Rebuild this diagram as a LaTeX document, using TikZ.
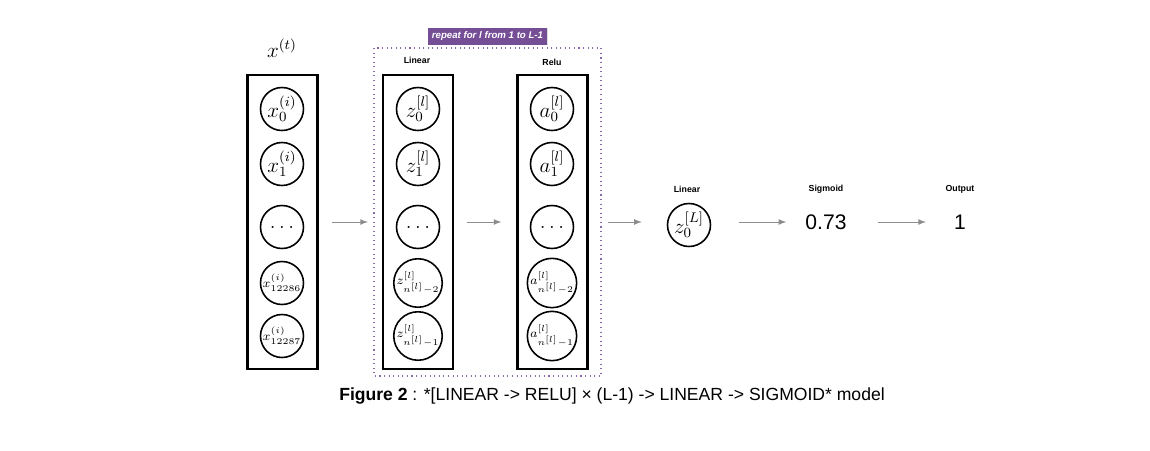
\documentclass[tikz,border=0pt]{standalone}
\usepackage{fontspec}
\setsansfont{Liberation Sans}
\usetikzlibrary{positioning,shadows}

\definecolor{repeatpurple}{RGB}{118,78,150}
\definecolor{flowgray}{RGB}{140,140,140}

\tikzset{
    layerbox/.style={draw, line width=1.3pt, minimum width=1.4cm, minimum height=5.88cm},
    unit/.style={draw, circle, line width=0.9pt, minimum size=0.86cm, inner sep=0pt, font=\large},
    smallunit/.style={unit, font=\fontsize{7.2}{8}\selectfont},
    head/.style={font=\sffamily\bfseries\fontsize{5}{6}\selectfont},
    flow/.style={flowgray, line width=0.5pt, -latex},
}

\begin{document}
\begin{tikzpicture}[x=0.02cm, y=-0.02cm]
        \useasboundingbox (0, 0) rectangle (1150, 450);

        % repeated block
        \draw[repeatpurple!85, dotted, line width=0.6pt] (374, 48) rectangle (601, 376);
        \node[fill=repeatpurple, text=white, font=\sffamily\bfseries\itshape\fontsize{5.5}{6}\selectfont,
              minimum width=2.4cm, minimum height=0.34cm, inner sep=1pt,
              drop shadow={opacity=0.25, shadow xshift=0.5pt, shadow yshift=-0.5pt}] (repeat) at (487.5, 36) {repeat for l from 1 to L-1};

        % layer boxes
        \node[layerbox] (inbox) at (282.5, 222) {};
        \node[layerbox] (linbox) at (418, 222) {};
        \node[layerbox] (relubox) at (552.5, 222) {};

        \node[font=\large] (xlabel) at (282, 48) {$x^{(t)}$};
        \node[head] (linhead) at (417, 60) {Linear};
        \node[head] (reluhead) at (552, 62) {Relu};

        % units
        \foreach \n/\y/\xt/\zt/\at in {0/109/{x_0^{(i)}}/{z_0^{[l]}}/{a_0^{[l]}},
                                     1/164/{x_1^{(i)}}/{z_1^{[l]}}/{a_1^{[l]}},
                                     2/227/{\dots}/{\dots}/{\dots}} {
            \node[unit] (x\n) at (282, \y) {$\xt$};
            \node[unit] (z\n) at (418, \y) {$\zt$};
            \node[unit] (a\n) at (552, \y) {$\at$};
        }
        \foreach \n/\y/\xt/\zt/\at in {3/283/{x_{12286}^{(i)}}/{z_{n^{[l]}-2}^{[l]}}/{a_{n^{[l]}-2}^{[l]}},
                                     4/336/{x_{12287}^{(i)}}/{z_{n^{[l]}-1}^{[l]}}/{a_{n^{[l]}-1}^{[l]}}} {
            \node[smallunit] (x\n) at (282, \y) {$\xt$};
            \node[smallunit] (z\n) at (418, \y) {$\zt$};
            \node[smallunit] (a\n) at (552, \y) {$\at$};
        }

        % output side
        \node[unit] (zL) at (689, 225) {$z_0^{[L]}$};
        \node[head] (zLhead) at (687, 189) {Linear};
        \node[font=\sffamily\fontsize{12}{14}\selectfont] (sig) at (826, 222) {0.73};
        \node[head] (sighead) at (826, 189) {Sigmoid};
        \node[font=\sffamily\fontsize{12}{14}\selectfont] (out) at (960, 222) {1};
        \node[head] (outhead) at (960, 189) {Output};

        % connectors
        \draw[flow, shorten <=0.26cm, shorten >=0.28cm] (inbox.east) -- (linbox.west);
        \draw[flow, shorten <=0.26cm, shorten >=0.3cm] (linbox.east) -- (relubox.west);
        \draw[flow, shorten <=0.38cm, shorten >=0.5cm] (relubox.east) -- (zL.west |- relubox.east);
        \draw[flow, shorten <=0.56cm, shorten >=0.26cm] (zL.east |- sig.west) -- (sig.west);
        \draw[flow, shorten <=0.5cm, shorten >=0.44cm] (sig.east) -- (out.west);

        \node[font=\sffamily\fontsize{10}{12}\selectfont] (caption) at (612, 396) {\textbf{Figure 2} : *[LINEAR -> RELU] × (L-1) -> LINEAR -> SIGMOID* model};
    \end{tikzpicture}
\end{document}
